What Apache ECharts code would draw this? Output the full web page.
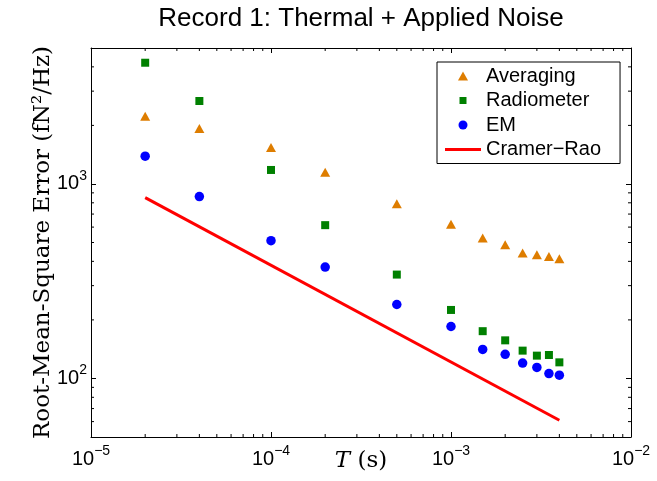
<!DOCTYPE html>
<html>
<head>
<meta charset="utf-8">
<script src="https://cdn.jsdelivr.net/npm/echarts@6/dist/echarts.min.js"></script>
<style>
  html, body { margin: 0; padding: 0; background: #fff; }
  #chart { width: 657px; height: 481px; }
</style>
</head>
<body>
<div id="chart"></div>
<script>
// averaging time T (s)
const T_VALUES = [2e-5, 4e-5, 1e-4, 2e-4, 5e-4, 1e-3, 1.5e-3, 2e-3, 2.5e-3, 3e-3, 3.5e-3, 4e-3]
// RMS error (fN^2/Hz)
const AVERAGING = [2230, 1930, 1540, 1150, 790, 620, 528, 487, 441, 432, 424, 412]
const RADIOMETER = [4200, 2670, 1180, 614, 342, 225, 175, 157, 139, 131, 132, 121]
const EM = [1390, 861, 511, 374, 240, 185, 141, 133, 120, 114, 106, 104]
const CRB_T = [2e-5, 4e-3]
const CRB = [850, 61]

const X_MIN = 1e-5
const X_MAX = 1e-2
const Y_MIN = 50
const Y_MAX = 5000
const X_MINOR = [2e-5, 3e-5, 4e-5, 5e-5, 6e-5, 7e-5, 8e-5, 9e-5,
  2e-4, 3e-4, 4e-4, 5e-4, 6e-4, 7e-4, 8e-4, 9e-4,
  2e-3, 3e-3, 4e-3, 5e-3, 6e-3, 7e-3, 8e-3, 9e-3]
const Y_MINOR = [60, 70, 80, 90, 200, 300, 400, 500, 600, 700, 800, 900, 2000, 3000, 4000]

const SANS = 'Liberation Sans'
const SERIF = 'DejaVu Serif'

const zip = (xs, ys) => xs.map((x, i) => [x, ys[i]])

// 10^n labels, only on whole decades
function powLabel (v) {
  const lg = Math.log10(v)
  const e = Math.round(lg)
  if (Math.abs(lg - e) > 1e-6) return ''
  return '{b|10}{s|' + (e < 0 ? '\u2212' + (-e) : e) + '}'
}
const LABEL_RICH = {
  b: { fontFamily: SANS, fontSize: 20, lineHeight: 30, color: '#000' },
  s: { fontFamily: SANS, fontSize: 14, lineHeight: 14, verticalAlign: 'top', color: '#000' }
}

const tickLine = (x1, y1, x2, y2) => ({
  type: 'line',
  shape: { x1, y1, x2, y2 },
  style: { stroke: '#000', lineWidth: 1 }
})

const baseAxis = {
  type: 'log',
  logBase: 10,
  nameMoveOverlap: false,
  axisLine: { show: true, lineStyle: { color: '#000', width: 1 } },
  axisTick: { show: true, inside: true, length: 5, lineStyle: { color: '#000', width: 1 } },
  splitLine: { show: false },
  minorTick: { show: false },
  minorSplitLine: { show: false }
}

const chart = echarts.init(document.getElementById('chart'))

chart.setOption({
  animation: false,
  backgroundColor: '#fff',
  title: {
    text: 'Record 1: Thermal + Applied Noise',
    left: 361,
    textAlign: 'center',
    top: 6,
    padding: 0,
    textStyle: { fontFamily: SANS, fontSize: 26, fontWeight: 'normal', color: '#000' }
  },
  grid: { left: 91, right: 26, top: 48, bottom: 44, outerBoundsMode: 'none', containLabel: false },
  legend: {
    orient: 'vertical',
    left: 437,
    top: 62,
    padding: [4, 19, 4, 8],
    itemGap: 4.5,
    itemWidth: 36,
    itemHeight: 9,
    symbolKeepAspect: true,
    borderColor: '#000',
    borderWidth: 1,
    backgroundColor: '#fff',
    textStyle: { fontFamily: SANS, fontSize: 20, lineHeight: 20, color: '#000' },
    data: [
      { name: 'Averaging', icon: 'path://M5,0L10,9H0Z', symbolKeepAspect: true },
      { name: 'Radiometer', icon: 'path://M0,0M1,1H8V8H1ZM9,9', symbolKeepAspect: true },
      { name: 'EM', icon: 'circle', symbolKeepAspect: true },
      { name: 'Cramer\u2212Rao', icon: 'path://M0,0H36V3H0Z', symbolKeepAspect: true }
    ]
  },
  xAxis: [
    Object.assign({}, baseAxis, {
      position: 'bottom',
      min: X_MIN,
      max: X_MAX,
      name: '{i|T} (s)',
      nameLocation: 'middle',
      nameGap: 13,
      nameTextStyle: {
        fontFamily: SERIF, fontSize: 23, color: '#000',
        rich: { i: { fontFamily: SERIF, fontSize: 23, fontStyle: 'italic', color: '#000' } }
      },
      axisLabel: { show: true, interval: 0, margin: 7, formatter: powLabel, rich: LABEL_RICH }
    }),
    Object.assign({}, baseAxis, {
      position: 'top',
      min: X_MIN,
      max: X_MAX,
      axisLabel: { show: false }
    })
  ],
  yAxis: [
    Object.assign({}, baseAxis, {
      position: 'left',
      min: Y_MIN,
      max: Y_MAX,
      name: 'Root-Mean-Square Error (fN\u00b2/Hz)',
      nameLocation: 'middle',
      nameGap: 36,
      nameTextStyle: { fontFamily: SERIF, fontSize: 23, color: '#000' },
      axisLabel: { show: true, interval: 0, margin: 4, formatter: powLabel, rich: LABEL_RICH }
    }),
    Object.assign({}, baseAxis, {
      position: 'right',
      min: Y_MIN,
      max: Y_MAX,
      axisLabel: { show: false }
    })
  ],
  series: [
    {
      name: 'Averaging',
      type: 'scatter',
      symbol: 'triangle',
      symbolSize: [10, 9],
      itemStyle: { color: '#DE7D00', opacity: 1 },
      data: zip(T_VALUES, AVERAGING),
      z: 4
    },
    {
      name: 'Radiometer',
      type: 'scatter',
      symbol: 'rect',
      symbolSize: 8,
      itemStyle: { color: '#008000', opacity: 1 },
      data: zip(T_VALUES, RADIOMETER),
      z: 4
    },
    {
      name: 'EM',
      type: 'scatter',
      symbol: 'circle',
      symbolSize: 9.5,
      itemStyle: { color: '#0000FF', opacity: 1 },
      data: zip(T_VALUES, EM),
      z: 4
    },
    {
      name: 'Cramer\u2212Rao',
      type: 'line',
      symbol: 'none',
      lineStyle: { color: '#FF0000', width: 3 },
      itemStyle: { color: '#FF0000' },
      data: zip(CRB_T, CRB),
      z: 3
    },
    // minor ticks on the bottom and top frame
    {
      type: 'custom',
      silent: true,
      clip: false,
      data: X_MINOR.map(v => [v, Y_MIN]),
      renderItem (params, api) {
        const b = api.coord([api.value(0), Y_MIN])
        const t = api.coord([api.value(0), Y_MAX])
        return {
          type: 'group',
          children: [tickLine(b[0], b[1], b[0], b[1] - 3), tickLine(t[0], t[1], t[0], t[1] + 3)]
        }
      },
      z: 2
    },
    // minor ticks on the left and right frame
    {
      type: 'custom',
      silent: true,
      clip: false,
      data: Y_MINOR.map(v => [X_MIN, v]),
      renderItem (params, api) {
        const l = api.coord([X_MIN, api.value(1)])
        const r = api.coord([X_MAX, api.value(1)])
        return {
          type: 'group',
          children: [tickLine(l[0], l[1], l[0] + 3, l[1]), tickLine(r[0], r[1], r[0] - 3, r[1])]
        }
      },
      z: 2
    }
  ]
})
</script>
</body>
</html>
